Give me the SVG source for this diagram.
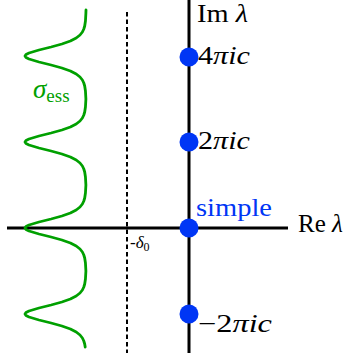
<svg xmlns="http://www.w3.org/2000/svg" width="348" height="353" viewBox="0 0 348 353">
<style>
.ax{stroke:#000;stroke-width:3;fill:none}
.dash{stroke:#000;stroke-width:2;stroke-dasharray:4.5 3;fill:none}
.ess{stroke:#00a000;stroke-width:2.8;fill:none;stroke-linejoin:round;stroke-linecap:round}
.dot{fill:#0036f5}
.lbl{font-family:"Liberation Serif",serif;font-size:25px;fill:#000}
.it{font-style:italic}
.blue{fill:#0036f5}
.green{fill:#00a000}
</style>
<rect width="348" height="353" fill="#fff"/>
<g id="connectors">
<line class="dash" x1="127" y1="12" x2="127" y2="353"/>
<line class="ax" x1="7" y1="228" x2="288" y2="228"/>
<line class="ax" x1="189" y1="0" x2="189" y2="353"/>
</g>
<g id="sigma-ess">
<path class="ess" d="M86,10 L85.9,13 L85.45,21 L84.7,26 L83.8,29 L82.4,32 L80,35 L76.2,38 L70.4,41 L61.9,44 L51.1,47 L39,50 L29,53 L26,54.5 L25,56 L26,57.5 L29,59 L39,62 L51.1,65 L61.9,68 L70.4,71 L76.2,74 L80,77 L82.4,80 L83.8,83 L84.7,86 L85.45,91 L85.9,99 L85.45,107 L84.7,112 L83.8,115 L82.4,118 L80,121 L76.2,124 L70.4,127 L61.9,130 L51.1,133 L39,136 L29,139 L26,140.5 L25,142 L26,143.5 L29,145 L39,148 L51.1,151 L61.9,154 L70.4,157 L76.2,160 L80,163 L82.4,166 L83.8,169 L84.7,172 L85.45,177 L85.9,185 L85.45,193 L84.7,198 L83.8,201 L82.4,204 L80,207 L76.2,210 L70.4,213 L61.9,216 L51.1,219 L39,222 L29,225 L26,226.5 L25,228 L26,229.5 L29,231 L39,234 L51.1,237 L61.9,240 L70.4,243 L76.2,246 L80,249 L82.4,252 L83.8,255 L84.7,258 L85.45,263 L85.9,271 L85.45,279 L84.7,284 L83.8,287 L82.4,290 L80,293 L76.2,296 L70.4,299 L61.9,302 L51.1,305 L39,308 L29,311 L26,312.5 L25,314 L26,315.5 L29,317 L39,320 L51.1,323 L61.9,326 L70.4,329 L76.2,332 L80,335 L82.4,338 L83.8,341 L84.7,344 L85.2,347"/>
<text class="lbl green" x="33" y="98"><tspan class="it" style="font-size:27px">σ</tspan><tspan style="font-size:19px" dy="4">ess</tspan></text>
</g>
<g id="delta0">
<text class="lbl" x="130" y="248" style="font-size:17px">-<tspan class="it">δ</tspan><tspan dy="3" style="font-size:12px">0</tspan></text>
</g>
<g id="im-label"><text class="lbl" x="197" y="22" textLength="51" lengthAdjust="spacingAndGlyphs">Im <tspan class="it">λ</tspan></text></g>
<g id="re-label"><text class="lbl" x="298" y="232" textLength="45" lengthAdjust="spacingAndGlyphs">Re <tspan class="it">λ</tspan></text></g>
<g id="node-4pi"><circle class="dot" cx="189" cy="57" r="9.5"/><text class="lbl" x="198" y="64" textLength="52" lengthAdjust="spacingAndGlyphs">4<tspan class="it">πic</tspan></text></g>
<g id="node-2pi"><circle class="dot" cx="189" cy="142" r="9.5"/><text class="lbl" x="198" y="149" textLength="52" lengthAdjust="spacingAndGlyphs">2<tspan class="it">πic</tspan></text></g>
<g id="node-simple"><circle class="dot" cx="189" cy="228" r="9.5"/><text class="lbl blue" x="196" y="216" style="font-size:26px" textLength="76" lengthAdjust="spacingAndGlyphs">simple</text></g>
<g id="node-m2pi"><circle class="dot" cx="189" cy="314" r="9.5"/><text class="lbl" x="198" y="332" textLength="74" lengthAdjust="spacingAndGlyphs">−2<tspan class="it">πic</tspan></text></g>
</svg>
